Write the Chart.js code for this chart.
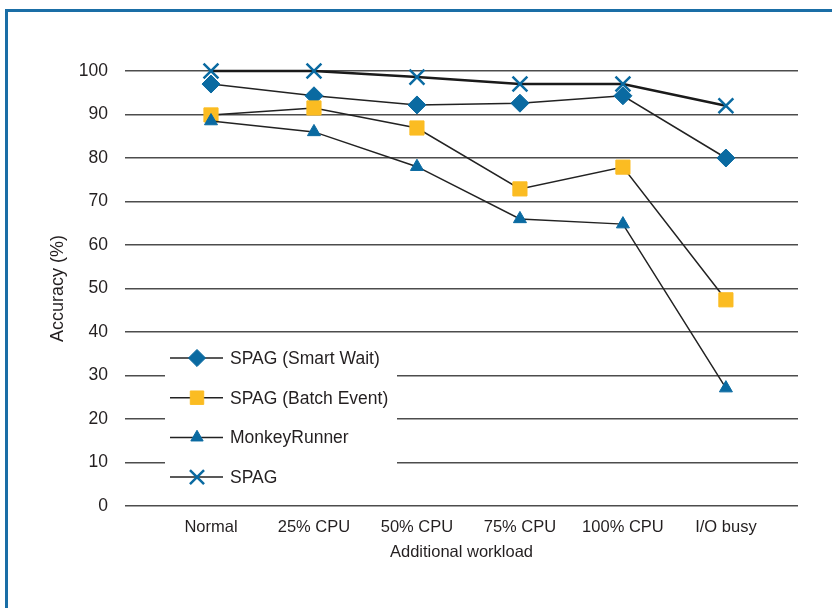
<!DOCTYPE html>
<html>
<head>
<meta charset="utf-8">
<script src="https://cdn.jsdelivr.net/npm/chart.js@4"></script>
<style>
  body { margin: 0; background: #fff; }
  #wrap { position: relative; width: 832px; height: 608px; overflow: hidden; }
  #frame { position: absolute; left: 5px; top: 9px; width: 900px; height: 700px;
           border: 3px solid #1a6ea6; pointer-events: none; }
</style>
</head>
<body>
<div id="wrap">
  <canvas id="acc-chart" width="832" height="608"></canvas>
  <div id="frame"></div>
</div>
<script>
const categories = ["Normal", "25% CPU", "50% CPU", "75% CPU", "100% CPU", "I/O busy"];
const smartWait = [97, 94.3, 92.2, 92.6, 94.3, 80];
const batchEvent = [89.9, 91.5, 86.9, 72.9, 77.9, 47.4];
const monkeyRunner = [88.5, 86, 78, 66, 64.8, 27.1];
const spag = [100, 100, 98.6, 97, 97, 92];
const yTicks = [0, 10, 20, 30, 40, 50, 60, 70, 80, 90, 100];

const blue = "#0a6aa1";
const orange = "#fbbc22";
const font = "'Liberation Sans', Arial, sans-serif";
const ink = "#231f20";

const pts = (arr) => arr.map((v, i) => ({ x: i, y: v }));

// legend drawn inside the plot, over the lower-left gridlines
const insideLegend = {
  id: "insideLegend",
  afterDatasetsDraw(chart) {
    const ctx = chart.ctx;
    ctx.save();
    ctx.fillStyle = "#fff";
    ctx.fillRect(165, 338, 232, 154);
    chart.data.datasets.forEach((ds, i) => {
      const y = 358 + i * 39.7;
      ctx.strokeStyle = "#222";
      ctx.lineWidth = 1.5;
      ctx.beginPath();
      ctx.moveTo(170, y);
      ctx.lineTo(223, y);
      ctx.stroke();
      ctx.fillStyle = ds.pointBackgroundColor;
      ctx.strokeStyle = ds.pointBorderColor;
      ctx.lineWidth = ds.pointBorderWidth;
      Chart.helpers.drawPoint(ctx, {
        pointStyle: ds.pointStyle,
        radius: ds.pointRadius * 0.95,
        rotation: 0,
        borderWidth: ds.pointBorderWidth
      }, 197, y);
      ctx.fillStyle = ink;
      ctx.font = "17.5px " + font;
      ctx.textBaseline = "middle";
      ctx.textAlign = "left";
      ctx.fillText(ds.label, 230, y + 1);
    });
    ctx.restore();
  }
};

new Chart(document.getElementById("acc-chart"), {
  type: "line",
  data: {
    datasets: [
      {
        label: "SPAG (Smart Wait)",
        data: pts(smartWait),
        order: 3,
        borderColor: "#222",
        borderWidth: 1.5,
        pointStyle: "rectRot",
        pointRadius: 9,
        pointBackgroundColor: blue,
        pointBorderColor: blue,
        pointBorderWidth: 1,
        clip: false
      },
      {
        label: "SPAG (Batch Event)",
        data: pts(batchEvent),
        order: 2,
        borderColor: "#222",
        borderWidth: 1.5,
        pointStyle: "rect",
        pointRadius: 10,
        pointBackgroundColor: orange,
        pointBorderColor: orange,
        pointBorderWidth: 1,
        clip: false
      },
      {
        label: "MonkeyRunner",
        data: pts(monkeyRunner),
        order: 1,
        borderColor: "#222",
        borderWidth: 1.5,
        pointStyle: "triangle",
        pointRadius: 7.5,
        pointBackgroundColor: blue,
        pointBorderColor: blue,
        pointBorderWidth: 1,
        clip: false
      },
      {
        label: "SPAG",
        data: pts(spag),
        order: 4,
        borderColor: "#1a1a1a",
        borderWidth: 2.5,
        pointStyle: "crossRot",
        pointRadius: 10.5,
        pointBackgroundColor: blue,
        pointBorderColor: blue,
        pointBorderWidth: 2.5,
        clip: false
      }
    ]
  },
  options: {
    responsive: false,
    animation: false,
    layout: { padding: { top: 71, right: 34, left: 0, bottom: 0 } },
    plugins: { legend: { display: false }, tooltip: { enabled: false } },
    elements: { line: { tension: 0 } },
    scales: {
      x: {
        type: "linear",
        min: -0.835,
        max: 5.70,
        afterBuildTicks: (scale) => { scale.ticks = categories.map((c, i) => ({ value: i })); },
        afterFit: (scale) => { scale.height = 102; },
        grid: { display: false, drawTicks: false },
        border: { display: false },
        ticks: {
          padding: 12,
          autoSkip: false,
          maxRotation: 0,
          color: ink,
          font: { family: font, size: 16.5 },
          callback: (v) => categories[v]
        },
        title: {
          display: true,
          text: "Additional workload",
          color: ink,
          font: { family: font, size: 16.5 },
          padding: { top: 0, bottom: 46 }
        }
      },
      y: {
        min: 0,
        max: 100,
        afterBuildTicks: (scale) => { scale.ticks = yTicks.map((v) => ({ value: v })); },
        afterFit: (scale) => { scale.width = 125; },
        grid: { color: "#4d4d4d", lineWidth: 1.5, drawTicks: false },
        border: { display: false },
        ticks: {
          padding: 17,
          color: ink,
          font: { family: font, size: 17.5 }
        },
        title: {
          display: true,
          text: "Accuracy (%)",
          color: ink,
          font: { family: font, size: 18 },
          padding: { top: 47, bottom: 0 }
        }
      }
    }
  },
  plugins: [insideLegend]
});
</script>
</body>
</html>
